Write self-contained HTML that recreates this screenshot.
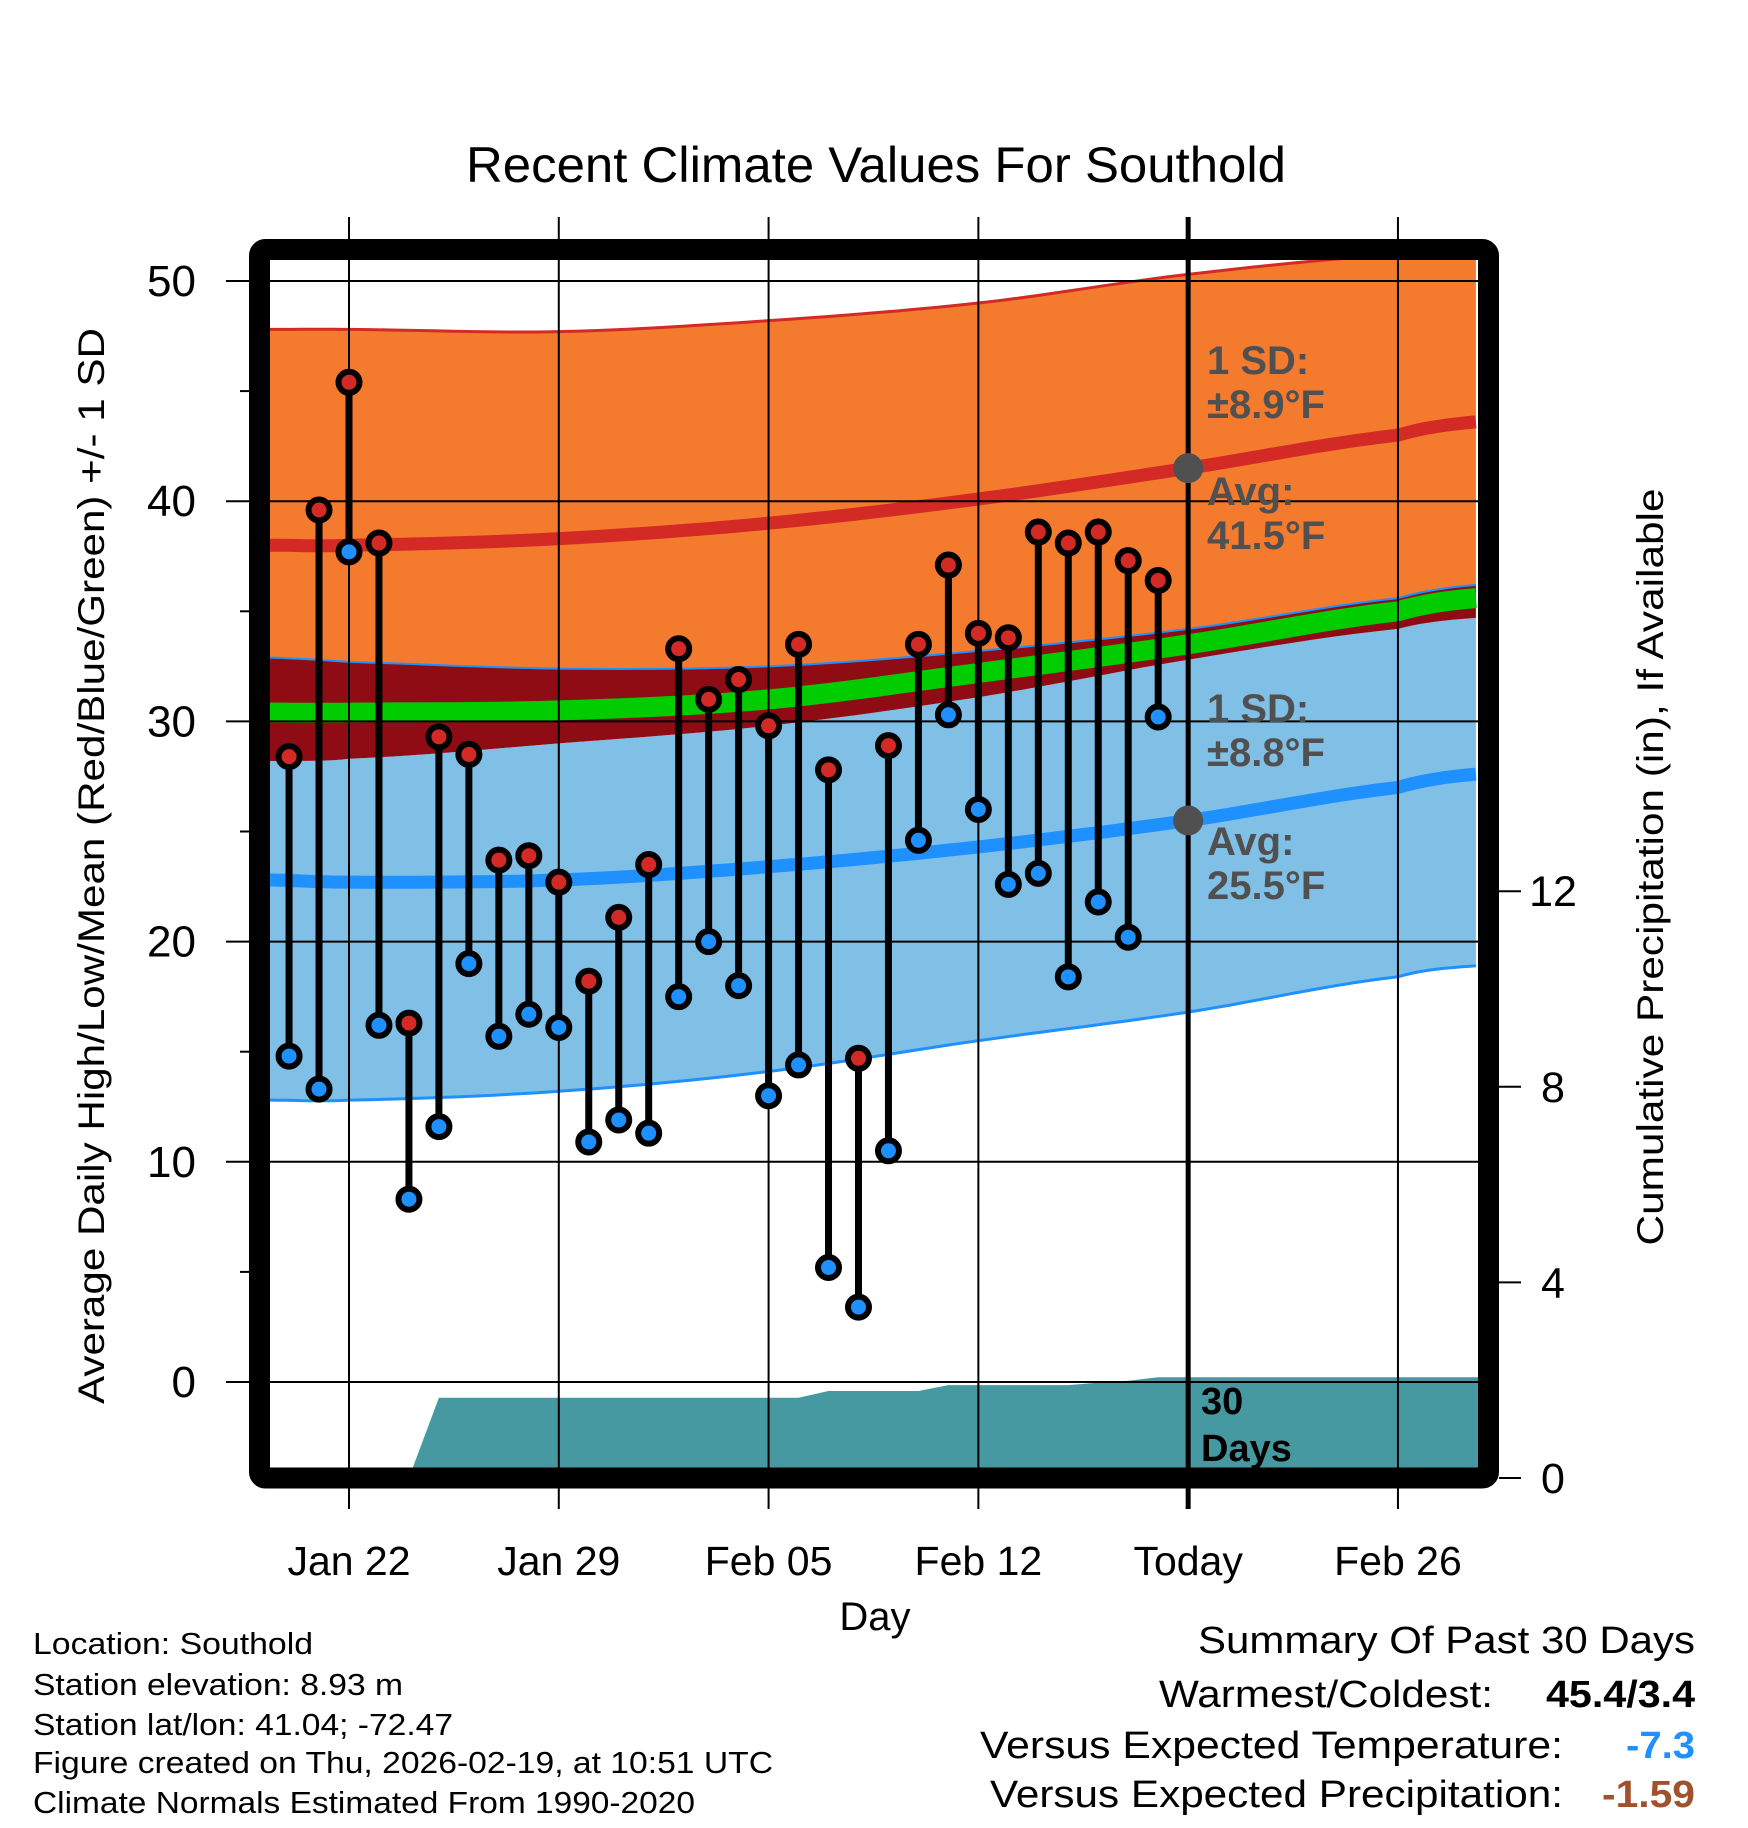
<!DOCTYPE html>
<html><head><meta charset="utf-8"><style>
html,body{margin:0;padding:0;background:#fff;}
svg{display:block;font-family:"Liberation Sans",Arial,sans-serif;}
</style></head><body>
<svg id="chart" width="1748" height="1828" viewBox="0 0 1748 1828" xmlns="http://www.w3.org/2000/svg">
<defs><clipPath id="plotclip"><rect x="270" y="260" width="1208" height="1208"/></clipPath></defs>
<text x="876" y="182" font-size="50" text-anchor="middle" textLength="820" lengthAdjust="spacingAndGlyphs">Recent Climate Values For Southold</text>
<g id="plot" clip-path="url(#plotclip)"></g>
<g id="over"></g>
<text x="875" y="1630" font-size="40" text-anchor="middle">Day</text>
<text transform="translate(104,866) rotate(-90)" font-size="37" text-anchor="middle" textLength="1076" lengthAdjust="spacingAndGlyphs">Average Daily High/Low/Mean (Red/Blue/Green) +/- 1 SD</text>
<text transform="translate(1663,867) rotate(-90)" font-size="37" text-anchor="middle" textLength="757" lengthAdjust="spacingAndGlyphs">Cumulative Precipitation (in), If Available</text>
<g font-size="31">
<text x="33" y="1654" textLength="280" lengthAdjust="spacingAndGlyphs">Location: Southold</text>
<text x="33" y="1695" textLength="370" lengthAdjust="spacingAndGlyphs">Station elevation: 8.93 m</text>
<text x="33" y="1735" textLength="420" lengthAdjust="spacingAndGlyphs">Station lat/lon: 41.04; -72.47</text>
<text x="33" y="1773" textLength="740" lengthAdjust="spacingAndGlyphs">Figure created on Thu, 2026-02-19, at 10:51 UTC</text>
<text x="33" y="1813" textLength="662" lengthAdjust="spacingAndGlyphs">Climate Normals Estimated From 1990-2020</text>
</g>
<g font-size="38">
<text x="1695" y="1653" text-anchor="end" textLength="497" lengthAdjust="spacingAndGlyphs">Summary Of Past 30 Days</text>
<text x="1493" y="1707" text-anchor="end" textLength="334" lengthAdjust="spacingAndGlyphs">Warmest/Coldest:</text>
<text x="1695" y="1707" text-anchor="end" font-weight="bold" textLength="149" lengthAdjust="spacingAndGlyphs">45.4/3.4</text>
<text x="1563" y="1758" text-anchor="end" textLength="583" lengthAdjust="spacingAndGlyphs">Versus Expected Temperature:</text>
<text x="1695" y="1758" text-anchor="end" font-weight="bold" fill="#1e90ff" textLength="69" lengthAdjust="spacingAndGlyphs">-7.3</text>
<text x="1563" y="1807" text-anchor="end" textLength="573" lengthAdjust="spacingAndGlyphs">Versus Expected Precipitation:</text>
<text x="1695" y="1807" text-anchor="end" font-weight="bold" fill="#a0522d" textLength="93" lengthAdjust="spacingAndGlyphs">-1.59</text>
</g>
</svg>
<script>
// ---- data ----
const xTickLabels = ["Jan 22","Jan 29","Feb 05","Feb 12","Today","Feb 26"];
const xTickDays = [0,7,14,21,28,35];           // days after Jan 22
const yTicks = [0,10,20,30,40,50];
const y2Ticks = [0,4,8,12];
const obsStartDay = -2;                         // Jan 20
const highs = [28.4,39.6,45.4,38.1,16.3,29.3,28.5,23.7,23.9,22.7,18.2,21.1,23.5,33.3,31.0,31.9,29.8,33.5,27.8,14.7,28.9,33.5,37.1,34.0,33.8,38.6,38.1,38.6,37.3,36.4];
const lows  = [14.8,13.3,37.7,16.2,8.3,11.6,19.0,15.7,16.7,16.1,10.9,11.9,11.3,17.5,20.0,18.0,13.0,14.4,5.2,3.4,10.5,24.6,30.3,26.0,22.6,23.1,18.4,21.8,20.2,30.2];
const precipCum = [0,0,0,0,0,1.64,1.64,1.64,1.64,1.64,1.64,1.64,1.64,1.64,1.64,1.64,1.64,1.64,1.78,1.78,1.78,1.78,1.9,1.9,1.9,1.9,1.9,1.95,1.99,2.06,2.06];
const normDays   = [-2.7,0,7,14,21,28,35,37.6];
const highUpper  = [47.8,47.8,47.7,48.2,49.0,50.3,51.2,51.4];
const highAvg    = [38.0,38.0,38.3,39.0,40.1,41.5,43.0,43.6];
const highLower  = [32.9,32.7,32.4,32.5,33.2,34.2,35.6,36.2];
const meanAvg    = [30.4,30.4,30.5,31.0,32.2,33.5,35.0,35.6];
const lowUpper   = [28.2,28.3,29.0,29.8,31.1,32.8,34.2,34.7];
const lowAvg     = [22.8,22.7,22.8,23.4,24.3,25.5,27.0,27.6];
const lowLower   = [12.8,12.8,13.2,14.1,15.5,16.8,18.4,18.9];
const todayDay = 28;

// ---- scales ----
const X0 = 349, PXD = 29.97;
const xs = d => X0 + d*PXD;
const ys = v => 1382 - 22.02*v;
const yp = p => 1478 - 48.9*p;
const NS = "http://www.w3.org/2000/svg";
const plot = document.getElementById('plot');
const over = document.getElementById('over');
function mk(tag, attrs, parent){
  const e = document.createElementNS(NS, tag);
  for (const k in attrs) e.setAttribute(k, attrs[k]);
  parent.appendChild(e);
  return e;
}
function smoothPts(days, vals){
  const pts=[];
  for(let i=0;i<days.length-1;i++){
    const p0=vals[Math.max(i-1,0)],p1=vals[i],p2=vals[i+1],p3=vals[Math.min(i+2,vals.length-1)];
    for(let t=0;t<1;t+=0.1){
      const t2=t*t,t3=t2*t;
      const v=0.5*((2*p1)+(-p0+p2)*t+(2*p0-5*p1+4*p2-p3)*t2+(-p0+3*p1-3*p2+p3)*t3);
      pts.push([xs(days[i]+(days[i+1]-days[i])*t), ys(v)]);
    }
  }
  pts.push([xs(days[days.length-1]), ys(vals[vals.length-1])]);
  return pts;
}
const toStr = pts => pts.map(p=>p[0].toFixed(1)+','+p[1].toFixed(1)).join(' ');
function band(lo, hi, fill, name){
  const a = smoothPts(normDays, hi), b = smoothPts(normDays, lo).reverse();
  const el = mk('polygon',{points:toStr(a.concat(b)), fill:fill}, plot);
  
  
}
function line(vals, color, w, name){
  const el = mk('polyline',{points:toStr(smoothPts(normDays, vals)), fill:'none', stroke:color, 'stroke-width':w}, plot);
  
  
}
band(highLower, highUpper, '#f47a2e', 'high-sd-band');
band(lowLower, lowUpper, '#80bfe6', 'low-sd-band');
band(lowUpper, highLower, '#900c14', 'overlap-band');
line(highUpper, '#d42a26', 3, 'high-upper-line');
line(highLower, '#1e90ff', 2, 'high-lower-line');
line(lowLower, '#1e90ff', 3, 'low-lower-line');
line(meanAvg, '#00cc00', 20, 'mean-line');
line(highAvg, '#d42a26', 13, 'high-avg-line');
line(lowAvg, '#1e90ff', 13, 'low-avg-line');

// precipitation area
(function(){
  const pts=[];
  const firstNZ = precipCum.findIndex(v=>v>0);
  pts.push([xs(obsStartDay+firstNZ-1), yp(0)]);
  for(let i=firstNZ;i<precipCum.length;i++) pts.push([xs(obsStartDay+i), yp(precipCum[i])]);
  pts.push([1480, yp(precipCum[precipCum.length-1])]);
  pts.push([1480, yp(0)]);
  const el = mk('polygon',{points:toStr(pts), fill:'#4799a1'}, plot);
  
  
})();

// grid lines
yTicks.forEach(v=>{
  const el = mk('line',{x1:226,x2:1478,y1:ys(v),y2:ys(v),stroke:'#000','stroke-width':2}, over);
  
  
  const t = mk('text',{x:196,y:ys(v)+15,'font-size':44,'text-anchor':'end'}, over);
  t.textContent = v;
  
  
});
[5,15,25,35,45].forEach(v=>{
  const el = mk('line',{x1:240,x2:252,y1:ys(v),y2:ys(v),stroke:'#000','stroke-width':2}, over);
  
  
});
xTickDays.forEach((d,i)=>{
  const el = mk('line',{x1:xs(d),x2:xs(d),y1:217,y2:1509,stroke:'#000','stroke-width':d===todayDay?5:2}, over);
  
  
  const t = mk('text',{x:xs(d),y:1575,'font-size':41,'text-anchor':'middle'}, over);
  t.textContent = xTickLabels[i];
  
  
});
y2Ticks.forEach(p=>{
  const el = mk('line',{x1:1499,x2:1521,y1:yp(p),y2:yp(p),stroke:'#000','stroke-width':2}, over);
  
  
  const t = mk('text',{x:1553,y:yp(p)+15,'font-size':43,'text-anchor':'middle'}, over);
  t.textContent = p;
  
  
});

// daily high/low stems and dots
highs.forEach((h,i)=>{
  const x = xs(obsStartDay+i), l = lows[i];
  const s = mk('line',{x1:x,x2:x,y1:ys(h),y2:ys(l),stroke:'#000','stroke-width':7}, over);
  
  
  const c1 = mk('circle',{cx:x,cy:ys(h),r:10.5,fill:'#d42a26',stroke:'#000','stroke-width':6}, over);
  
  
  const c2 = mk('circle',{cx:x,cy:ys(l),r:10.5,fill:'#1e90ff',stroke:'#000','stroke-width':6}, over);
  
  
});

// today markers
[[highAvg,'high-avg-today-dot'],[lowAvg,'low-avg-today-dot']].forEach(([arr,name])=>{
  const v = arr[normDays.indexOf(todayDay)];
  const c = mk('circle',{cx:xs(todayDay),cy:ys(v),r:15,fill:'#505050'}, over);
  
  
});

// annotations
const ann = [["1 SD:",374,'high-sd-label'],["±8.9°F",418,'high-sd-value'],["Avg:",505,'high-avg-label'],["41.5°F",549,'high-avg-value'],
             ["1 SD:",722,'low-sd-label'],["±8.8°F",766,'low-sd-value'],["Avg:",855,'low-avg-label'],["25.5°F",899,'low-avg-value']];
ann.forEach(a=>{
  const t = mk('text',{x:1207,y:a[1],'font-size':40,'font-weight':'bold',fill:'#505050'}, over);
  t.textContent = a[0];
  
  
});
[["30",1414,'days-count'],["Days",1461,'days-label']].forEach(a=>{
  const t = mk('text',{x:1201,y:a[1],'font-size':38,'font-weight':'bold',fill:'#000'}, over);
  t.textContent = a[0];
  
  
});

// frame
const fr = mk('rect',{x:259.5,y:249.5,width:1229,height:1228.5,rx:6,fill:'none',stroke:'#000','stroke-width':21}, over);


</script>
</body></html>
